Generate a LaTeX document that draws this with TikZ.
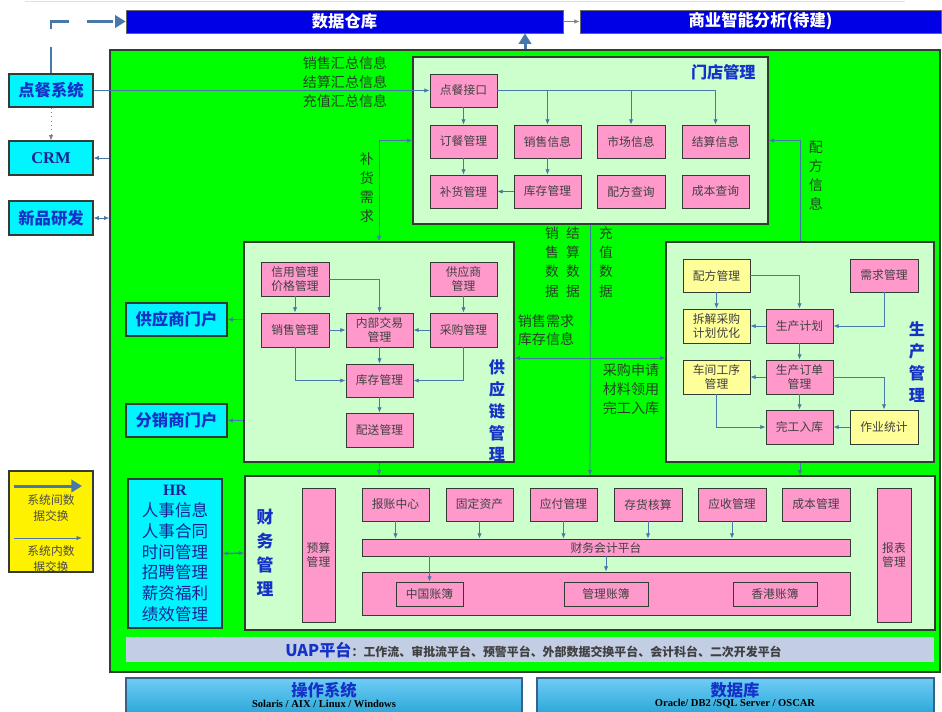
\documentclass[tikz,border=0pt]{standalone}
\usepackage{fontspec}
\setmainfont{Noto Sans CJK SC}
\newfontfamily\lserif{Liberation Serif}
\usetikzlibrary{arrows.meta}

\definecolor{lvse}{RGB}{0,255,0}
\definecolor{qianlv}{RGB}{204,255,204}
\definecolor{fenhong}{RGB}{255,153,204}
\definecolor{danhuang}{RGB}{255,255,153}
\definecolor{qing}{RGB}{0,245,255}
\definecolor{shenlan}{RGB}{0,0,230}
\definecolor{xianlan}{RGB}{70,120,170}
\definecolor{zilan}{RGB}{20,50,200}
\definecolor{hrlan}{RGB}{25,35,150}
\definecolor{wenzi}{RGB}{40,65,40}
\definecolor{uapse}{RGB}{195,205,228}
\definecolor{biankuang}{RGB}{50,60,50}

% box from pixel corners: style, name, x1, y1, x2, y2, text
\newcommand{\kuang}[7]{\node[#1, minimum width={(#5-#3)*0.02cm}, minimum height={(#6-#4)*0.02cm}] (#2) at ({(#3+#5)/2},{(#4+#6)/2}) {#7};}

\tikzset{
  ban/.style={draw=biankuang, line width=0.6pt, fill=qianlv, inner sep=0pt},
  fen/.style={draw=biankuang, line width=0.5pt, fill=fenhong, inner sep=0pt, align=center,
    text=black!75, font=\fontsize{6.7}{8.3}\selectfont},
  huang/.style={fen, fill=danhuang},
  qingk/.style={draw=biankuang, line width=0.6pt, fill=qing, inner sep=0pt, align=center,
    text=zilan, font=\fontsize{9.3}{11}\selectfont\bfseries},
  lan/.style={draw=black!60, fill=shenlan, inner sep=0pt, text=white,
    font=\fontsize{9.3}{11}\selectfont\bfseries},
  biaoti/.style={text=zilan, inner sep=0pt, align=center, font=\fontsize{9.2}{12.4}\selectfont\bfseries},
  zhushi/.style={text=wenzi, inner sep=0pt, align=left, font=\fontsize{8}{10.8}\selectfont},
  xian/.style={draw=xianlan, line width=0.5pt, -{Latex[length=3pt,width=2.5pt]}},
  shuang/.style={xian, {Latex[length=3pt,width=2.5pt]}-{Latex[length=3pt,width=2.5pt]}},
  cu/.style={draw=xianlan, line width=1.7pt, -{Triangle[length=6pt,width=7pt]}},
  dikuang/.style={draw=xianlan!80!black, line width=0.6pt, top color={rgb,255:red,110;green,205;blue,245},
    bottom color={rgb,255:red,40;green,165;blue,215}, inner sep=0pt}
}

\begin{document}
\begin{tikzpicture}[x=0.02cm, y=-0.02cm]
  \useasboundingbox (0,0) rectangle (942,711);
  \fill[white] (0,0) rectangle (942,711);
  \draw[black!12] (25,1) -- (905,1);

  % top row
  \kuang{lan}{sjck}{126}{10}{563}{33}{数据仓库}
  \kuang{lan}{bi}{580}{10}{941}{33}{商业智能分析(待建)}

  % green area
  \kuang{draw=biankuang, line width=0.8pt, fill=lvse}{lv}{110}{50}{940}{672}{}

  % outside systems
  \kuang{qingk}{dcxt}{9}{74}{93}{107}{点餐系统}
  \kuang{qingk, font=\lserif\fontsize{9.4}{11}\selectfont\bfseries, text=hrlan}{crm}{9}{141}{93}{175}{CRM}
  \kuang{qingk}{xp}{9}{201}{93}{235}{新品研发}

  \node[zhushi] at (345,82) {销售汇总信息\\结算汇总信息\\充值汇总信息};

  % store management
  \kuang{ban}{md}{413}{57}{768}{224}{}
  \node[biaoti, anchor=east] at (756,72) {门店管理};
  \kuang{fen}{dcjk}{430}{74}{497}{107}{点餐接口}
  \kuang{fen}{dcgl}{430}{125}{497}{158}{订餐管理}
  \kuang{fen}{xsxx}{514}{125}{581}{158}{销售信息}
  \kuang{fen}{scxx}{597}{125}{665}{158}{市场信息}
  \kuang{fen}{jsxx}{682}{125}{749}{158}{结算信息}
  \kuang{fen}{bhgl}{430}{175}{497}{208}{补货管理}
  \kuang{fen}{kcgl}{514}{175}{581}{208}{库存管理}
  \kuang{fen}{pfcx}{597}{175}{665}{208}{配方查询}
  \kuang{fen}{cbcx}{682}{175}{749}{208}{成本查询}

  \draw[xian] (dcxt.east) -- (dcjk.west);
  \draw[xian] (dcjk.south) -- (dcgl.north);
  \draw[xian] (dcjk.east) -| (xsxx.north);
  \draw[xian] (dcjk.east) -| (scxx.north);
  \draw[xian] (dcjk.east) -| (jsxx.north);
  \draw[xian] (dcgl.south) -- (bhgl.north);
  \draw[xian] (xsxx.south) -- (kcgl.north);
  \draw[xian] (kcgl.west) -- (bhgl.east);

  % supply chain
  \kuang{ban}{gyl}{244}{242}{514}{462}{}
  \node[biaoti] at (497,411) {供\\应\\链\\管\\理};
  \kuang{fen}{xygl}{261}{262}{329}{296}{信用管理\\价格管理}
  \kuang{fen}{gys}{430}{262}{497}{296}{供应商\\管理}
  \kuang{fen}{xsgl}{261}{313}{329}{347}{销售管理}
  \kuang{fen}{nbjy}{346}{313}{413}{347}{内部交易\\管理}
  \kuang{fen}{cggl}{430}{313}{497}{347}{采购管理}
  \kuang{fen}{kc}{346}{364}{413}{397}{库存管理}
  \kuang{fen}{ps}{346}{413}{413}{447}{配送管理}

  \draw[xian] (xygl.south) -- (xsgl.north);
  \draw[xian] (xygl.east) -| (nbjy.north);
  \draw[xian] (gys.south) -- (cggl.north);
  \draw[xian] (xsgl.east) -- (nbjy.west);
  \draw[xian] (cggl.west) -- (nbjy.east);
  \draw[xian] (nbjy.south) -- (kc.north);
  \draw[xian] (xsgl.south) |- (kc.west);
  \draw[xian] (cggl.south) |- (kc.east);
  \draw[xian] (kc.south) -- (ps.north);

  \kuang{qingk}{gysmh}{126}{303}{227}{336}{供应商门户}
  \kuang{qingk}{fxsmh}{126}{404}{227}{437}{分销商门户}

  % production
  \kuang{ban}{scgl}{666}{242}{934}{462}{}
  \node[biaoti] at (917,362) {生\\产\\管\\理};
  \kuang{huang}{pfgl}{683}{259}{750}{292}{配方管理}
  \kuang{fen}{xqgl}{850}{259}{918}{292}{需求管理}
  \kuang{huang}{cj}{683}{309}{750}{343}{拆解采购\\计划优化}
  \kuang{fen}{scjh}{766}{309}{833}{343}{生产计划}
  \kuang{huang}{cjgx}{683}{360}{750}{394}{车间工序\\管理}
  \kuang{fen}{scdd}{766}{360}{833}{394}{生产订单\\管理}
  \kuang{fen}{wgrk}{766}{410}{833}{444}{完工入库}
  \kuang{huang}{zytj}{850}{410}{918}{444}{作业统计}

  \draw[xian] (pfgl.south) -- (cj.north);
  \draw[xian] (pfgl.east) -| (scjh.north);
  \draw[xian] (xqgl.south) |- (scjh.east);
  \draw[xian] (scjh.west) -- (cj.east);
  \draw[xian] (scjh.south) -- (scdd.north);
  \draw[xian] (scdd.west) -- (cjgx.east);
  \draw[xian] (scdd.east) -| (zytj.north);
  \draw[xian] (scdd.south) -- (wgrk.north);
  \draw[xian] (cjgx.south) |- (wgrk.west);
  \draw[xian] (zytj.west) -- (wgrk.east);

  % HR and finance
  \kuang{qingk, font=\fontsize{9.4}{11.9}\selectfont, text=hrlan}{hr}{128}{479}{222}{628}{{\lserif\bfseries\fontsize{9}{11.9}\selectfont HR}\\人事信息\\人事合同\\时间管理\\招聘管理\\薪资福利\\绩效管理}
  \kuang{ban}{cw}{245}{476}{935}{630}{}
  \node[biaoti, font=\fontsize{9.6}{13.6}\selectfont\bfseries] at (265,553) {财\\务\\管\\理};
  \kuang{fen}{ysgl0}{302}{488}{335}{622}{预算\\管理}
  \kuang{fen}{bzzx}{362}{488}{429}{521}{报账中心}
  \kuang{fen}{gdzc}{446}{488}{513}{521}{固定资产}
  \kuang{fen}{yfgl}{530}{488}{597}{521}{应付管理}
  \kuang{fen}{chhs}{614}{488}{682}{521}{存货核算}
  \kuang{fen}{ysgl}{698}{488}{766}{521}{应收管理}
  \kuang{fen}{cbgl}{782}{488}{850}{521}{成本管理}
  \kuang{fen}{kjpt}{362}{539}{850}{556}{财务会计平台}
  \kuang{fen}{zb}{362}{572}{850}{615}{}
  \kuang{fen}{zgzb}{396}{582}{463}{606}{中国账簿}
  \kuang{fen}{glzb}{564}{582}{648}{606}{管理账簿}
  \kuang{fen}{xgzb}{733}{582}{817}{606}{香港账簿}
  \kuang{fen}{bbgl}{877}{488}{911}{622}{报表\\管理}

  \foreach \n in {bzzx,gdzc,yfgl,chhs,ysgl}
    \draw[xian] (\n.south) -- (\n.south |- kjpt.north);
  \draw[xian] (kjpt.south -| zgzb.north) -- (zgzb.north);
  \draw[xian] (kjpt.south) -- (zb.north);

  % links between systems
  \draw[cu, dash pattern=on 0.52cm off 0.36cm] (dcxt.north) |- (sjck.west);
  \draw[cu] (lv.north) -- (lv.north |- sjck.south);
  \draw[xian, draw=gray] (sjck.east) -- (bi.west);
  \draw[xian, draw=gray, dotted] (dcxt.south) -- (crm.north);
  \draw[xian] (lv.west |- crm.east) -- (crm.east);
  \draw[shuang, dashed] (lv.west |- xp.east) -- (xp.east);
  \draw[xian] (gyl.west |- gysmh.east) -- (gysmh.east);
  \draw[xian] (gyl.west |- fxsmh.east) -- (fxsmh.east);
  \draw[shuang] (gyl.north) |- (md.west);
  \draw[xian] (scgl.north) |- (md.east);
  \draw[xian] (md.south) -- (cw.north);
  \draw[shuang] ([yshift=-0.12cm]gyl.east) -- ([yshift=-0.12cm]scgl.west);
  \draw[xian] (gyl.south) -- (gyl.south |- cw.north);
  \draw[xian] (scgl.south) -- (scgl.south |- cw.north);
  \draw[shuang, line width=0.8pt] (hr.east) -- (cw.west);

  \node[zhushi] at (367,188) {补\\货\\需\\求};
  \node[zhushi] at (816,176) {配\\方\\信\\息};
  \node[zhushi, font=\fontsize{7.8}{11}\selectfont] at (552,262) {销\\售\\数\\据};
  \node[zhushi, font=\fontsize{7.8}{11}\selectfont] at (573,262) {结\\算\\数\\据};
  \node[zhushi, font=\fontsize{7.8}{11}\selectfont] at (606,262) {充\\值\\数\\据};
  \node[zhushi, font=\fontsize{8}{10.2}\selectfont] at (546,330) {销售需求\\库存信息};
  \node[zhushi] at (631,389) {采购申请\\材料领用\\完工入库};

  % platform
  \kuang{fill=uapse, inner sep=0pt}{uap}{126}{637}{934}{662}{}
  \node[anchor=west, inner sep=0pt, text=black!75, font=\fontsize{6.8}{8}\selectfont\bfseries] at (285,650)
    {{\color{zilan}\fontsize{9.2}{11}\selectfont UAP平台}：工作流、审批流平台、预警平台、外部数据交换平台、会计科台、二次开发平台};

  \kuang{dikuang}{czxt}{126}{678}{522}{716}{}
  \kuang{dikuang}{sjk}{537}{678}{934}{716}{}
  \node[text=zilan, font=\fontsize{9.3}{11}\selectfont\bfseries] at (324,690) {操作系统};
  \node[font=\lserif\fontsize{6}{7}\selectfont\bfseries] at (324,704) {Solaris / AIX / Linux / Windows};
  \node[text=zilan, font=\fontsize{9.3}{11}\selectfont\bfseries] at (735,690) {数据库};
  \node[font=\lserif\fontsize{6}{7}\selectfont\bfseries] at (735,704) {Oracle/ DB2 /SQL Server / OSCAR};

  % legend
  \kuang{draw=biankuang, line width=0.6pt, fill=yellow, inner sep=0pt}{tl}{9}{471}{93}{572}{}
  \coordinate (tla) at (14,486);
  \coordinate (tlb) at (82,486);
  \coordinate (tlc) at (14,538);
  \coordinate (tld) at (82,538);
  \draw[cu] (tla) -- (tlb);
  \draw[xian] (tlc) -- (tld);
  \node[text=black!70, align=center, font=\fontsize{6.7}{9}\selectfont] at (51,508) {系统间数\\据交换};
  \node[text=black!70, align=center, font=\fontsize{6.7}{9}\selectfont] at (51,559) {系统内数\\据交换};
\end{tikzpicture}
\end{document}
